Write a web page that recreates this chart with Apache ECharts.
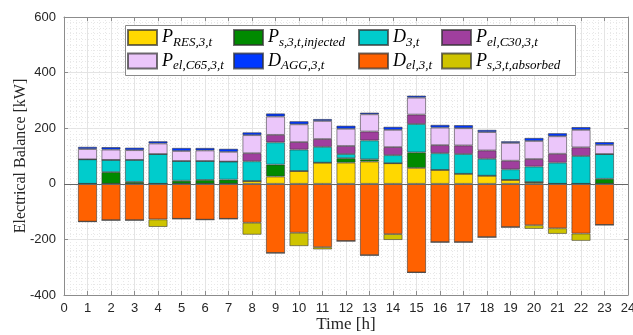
<!DOCTYPE html>
<html>
<head>
<meta charset="utf-8">
<script src="https://cdn.jsdelivr.net/npm/echarts@6/dist/echarts.min.js"></script>
<style>html,body{margin:0;padding:0;background:#fff}#c{width:633px;height:335px}</style>
</head>
<body>
<div id="c"></div>
<script>
const xLabels = ['0','1','2','3','4','5','6','7','8','9','10','11','12','13','14','15','16','17','18','19','20','21','22','23','24'];
const hours = [1,2,3,4,5,6,7,8,9,10,11,12,13,14,15,16,17,18,19,20,21,22,23];
const pRES      = [0,0,0,0,0,0,0,10,26,46,76,76,80,74,57,50,36,29,14,6,0,0,0];
const pInjected = [0,42,7,0,11,14,15,0,43,0,0,16,8,0,56,0,0,0,0,0,0,0,18];
const dLoad     = [88,44,79,107,71,68,65,71,80,77,57,15,68,29,102,60,71,61,38,56,76,100,89];
const pC30      = [0,0,0,0,0,0,0,29,27,27,28,29,32,29,34,29,31,30,31,27,32,31,0];
const pC65      = [37,37,35,38,36,38,35,65,66,64,65,62,62,62,61,63,62,66,64,65,63,63,33];
const dAGG      = [8,9,9,8,11,9,11,10,11,11,7,11,6,11,7,10,11,8,6,11,11,10,10];
const dEl       = [-136,-131,-131,-128,-126,-129,-126,-140,-249,-176,-228,-206,-257,-181,-319,-210,-210,-192,-156,-149,-160,-179,-148];
const pAbsorbed = [0,0,0,-27,0,0,0,-43,0,-48,-8,0,0,-21,0,0,0,0,0,-13,-20,-26,0];
const yTicks = [-400,-200,0,200,400,600];

const labels = {
  'P_RES': ['P','RES,3,t'],
  'P_inj': ['P','s,3,t,injected'],
  'D_3':   ['D','3,t'],
  'P_C30': ['P','el,C30,3,t'],
  'P_C65': ['P','el,C65,3,t'],
  'D_AGG': ['D','AGG,3,t'],
  'D_el':  ['D','el,3,t'],
  'P_abs': ['P','s,3,t,absorbed']
};
const colors = {
  'P_RES':'#FFD800','P_inj':'#008A00','D_3':'#00CCCC','P_C30':'#A03F9E',
  'P_C65':'#EBC6FA','D_AGG':'#0038FF','D_el':'#FF6100','P_abs':'#CFC400'
};
function mk(name, arr){
  const full = xLabels.map(() => '-');
  hours.forEach((h,i) => { full[xLabels.indexOf(String(h))] = arr[i]; });
  return {
    name, type:'bar', stack:'all', stackStrategy:'samesign', barWidth:19, xAxisIndex:0, yAxisIndex:0,
    itemStyle:{color:colors[name], borderColor:'rgba(50,50,50,0.7)', borderWidth:0.8},
    data: full
  };
}
const series = [
  mk('P_RES',pRES), mk('P_inj',pInjected), mk('D_3',dLoad),
  mk('P_C30',pC30), mk('P_C65',pC65), mk('D_AGG',dAGG),
  mk('D_el',dEl), mk('P_abs',pAbsorbed)
];
series[0].markLine = {silent:true, symbol:'none', label:{show:false},
  lineStyle:{color:'#666', width:1, type:'solid'}, data:[{yAxis:0}]};

const rich = {
  m:{fontFamily:'Liberation Serif', fontStyle:'italic', fontSize:18, lineHeight:24, color:'#000'},
  s:{fontFamily:'Liberation Serif', fontStyle:'italic', fontSize:13, lineHeight:14, padding:[10,0,0,0], color:'#000'}
};
function legend(x, names){
  return {
    left:x, top:26, padding:0, orient:'vertical', itemWidth:29, itemHeight:15, itemGap:0.4,
    icon:'rect', data:names, selectedMode:false,
    formatter: n => '{m|'+labels[n][0]+'}{s|'+labels[n][1]+'}',
    textStyle:{rich}
  };
}
const tickFont = {fontFamily:'Liberation Sans', fontSize:13, color:'#262626'};
const axisCol = '#8c8c8c';
const option = {
  animation:false,
  grid:{left:64, right:5, top:17, bottom:40, containLabel:false, outerBoundsMode:'none'},
  legend:[legend(127,['P_RES','P_C65']), legend(233,['P_inj','D_AGG']), legend(358,['D_3','D_el']), legend(441,['P_C30','P_abs'])],
  graphic:[{type:'rect', z:3, shape:{x:125.5, y:25.5, width:450, height:50},
    style:{fill:'#fff', stroke:'#8a8a8a', lineWidth:1}}],
  xAxis:[{
    type:'category', data:xLabels, boundaryGap:false, position:'bottom',
    name:'Time [h]', nameLocation:'middle', nameGap:21, nameMoveOverlap:false,
    nameTextStyle:{fontFamily:'Liberation Serif', fontSize:17, color:'#262626'},
    axisLine:{onZero:false, lineStyle:{color:axisCol}},
    axisTick:{inside:true, length:4, interval:0, lineStyle:{color:axisCol}},
    axisLabel:Object.assign({margin:7, interval:0}, tickFont),
    splitLine:{show:false}
  },{
    type:'value', min:0, max:24, interval:1, position:'top',
    axisLine:{onZero:false, lineStyle:{color:axisCol}},
    axisTick:{inside:true, length:4, lineStyle:{color:axisCol}},
    axisLabel:{show:false},
    splitLine:{show:true, lineStyle:{color:'#e4e4e4'}},
    minorTick:{show:false, splitNumber:4},
    minorSplitLine:{show:true, lineStyle:{color:'#e8e8e8', type:[1,2]}}
  }],
  yAxis:[{
    type:'value', min:-400, max:600, interval:200,
    name:'Electrical Balance [kW]', nameLocation:'middle', nameGap:35, nameMoveOverlap:false,
    nameTextStyle:{fontFamily:'Liberation Serif', fontSize:16, color:'#262626'},
    axisLine:{show:true, onZero:false, lineStyle:{color:axisCol}},
    axisTick:{show:true, inside:true, length:4, lineStyle:{color:axisCol}},
    axisLabel:Object.assign({margin:8, formatter: v => yTicks.includes(v) ? String(v) : ''}, tickFont),
    splitLine:{show:true, lineStyle:{color:'#e4e4e4'}},
    minorTick:{show:false, splitNumber:10},
    minorSplitLine:{show:true, lineStyle:{color:'#e8e8e8', type:[1,2]}}
  },{
    type:'value', min:-400, max:600, interval:200, position:'right',
    axisLine:{show:true, onZero:false, lineStyle:{color:axisCol}},
    axisTick:{show:true, inside:true, length:4, lineStyle:{color:axisCol}},
    axisLabel:{show:false}, splitLine:{show:false}
  }],
  series
};
const chart = echarts.init(document.getElementById('c'), null, {renderer:'canvas'});
chart.setOption(option);
</script>
</body>
</html>
